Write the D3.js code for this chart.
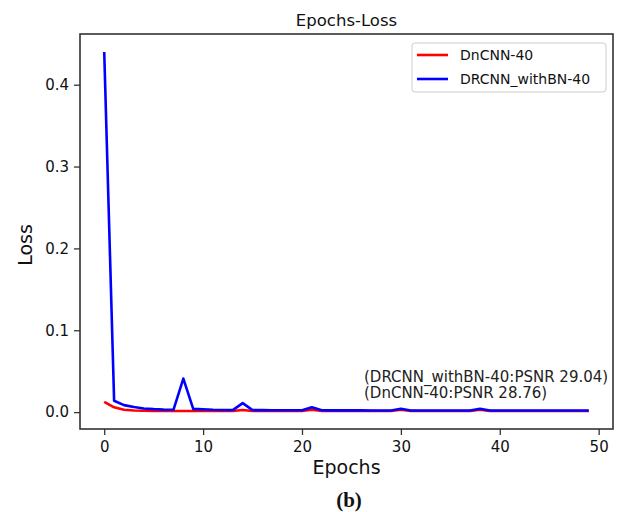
<!DOCTYPE html>
<html>
<head>
<meta charset="utf-8">
<script src="https://cdn.jsdelivr.net/npm/d3@7"></script>
<style>
  body { margin: 0; background: #fff; }
  svg { display: block; font-family: "DejaVu Sans", sans-serif; }
</style>
</head>
<body>
<div id="vis"></div>
<script>
// Loss per epoch
const epochs = d3.range(0, 50);
const dncnnLoss = [
  0.0125, 0.0058, 0.0028, 0.0020, 0.0017, 0.0015, 0.0014, 0.0014, 0.0014, 0.0014,
  0.0013, 0.0013, 0.0013, 0.0013, 0.0025, 0.0013, 0.0013, 0.0013, 0.0013, 0.0013,
  0.0013, 0.0030, 0.0013, 0.0013, 0.0013, 0.0013, 0.0013, 0.0013, 0.0013, 0.0013,
  0.0028, 0.0013, 0.0013, 0.0013, 0.0013, 0.0013, 0.0013, 0.0013, 0.0028, 0.0013,
  0.0013, 0.0013, 0.0013, 0.0013, 0.0013, 0.0013, 0.0013, 0.0013, 0.0013, 0.0013
];
const drcnnLoss = [
  0.440, 0.0138, 0.0085, 0.0062, 0.0045, 0.0036, 0.0030, 0.0028, 0.0410, 0.0040,
  0.0033, 0.0028, 0.0026, 0.0025, 0.0110, 0.0025, 0.0024, 0.0023, 0.0023, 0.0022,
  0.0022, 0.0058, 0.0022, 0.0021, 0.0021, 0.0021, 0.0021, 0.0020, 0.0020, 0.0020,
  0.0040, 0.0020, 0.0020, 0.0020, 0.0020, 0.0020, 0.0020, 0.0020, 0.0040, 0.0020,
  0.0020, 0.0020, 0.0020, 0.0020, 0.0020, 0.0020, 0.0020, 0.0020, 0.0020, 0.0020
];
const seriesNames = ["DnCNN-40", "DRCNN_withBN-40"];
const seriesColors = ["#ff0000", "#0000ff"];
const xTicks = [0, 10, 20, 30, 40, 50];
const yTicks = [0.0, 0.1, 0.2, 0.3, 0.4];
const notes = ["(DRCNN_withBN-40:PSNR 29.04)", "(DnCNN-40:PSNR 28.76)"];

const width = 620;
const height = 512;
const margin = { top: 34, right: 7, bottom: 83, left: 80 };

const svg = d3.select("#vis")
  .append("svg")
  .attr("width", width)
  .attr("height", height);

// matplotlib-style 5% padding around the data
const xExt = d3.extent(epochs);
const xPad = (xExt[1] - xExt[0]) * 0.05;
const allLoss = dncnnLoss.concat(drcnnLoss);
const yExt = d3.extent(allLoss);
const yPad = (yExt[1] - yExt[0]) * 0.05;

const xScale = d3.scaleLinear()
  .domain([xExt[0] - xPad, xExt[1] + xPad])
  .range([margin.left, width - margin.right]);

const yScale = d3.scaleLinear()
  .domain([yExt[0] - yPad, yExt[1] + yPad])
  .range([height - margin.bottom, margin.top]);

// Lines
const line = d3.line()
  .x((d, i) => xScale(epochs[i]))
  .y(d => yScale(d));

[dncnnLoss, drcnnLoss].forEach((vals, k) => {
  svg.append("path")
    .datum(vals)
    .attr("fill", "none")
    .attr("stroke", seriesColors[k])
    .attr("stroke-width", 2.6)
    .attr("stroke-linejoin", "round")
    .attr("d", line);
});

// Axes
const xAxis = svg.append("g")
  .attr("transform", `translate(0,${height - margin.bottom})`)
  .call(d3.axisBottom(xScale).tickValues(xTicks).tickSize(6).tickPadding(6).tickFormat(d3.format("d")));

const yAxis = svg.append("g")
  .attr("transform", `translate(${margin.left},0)`)
  .call(d3.axisLeft(yScale).tickValues(yTicks).tickSize(6).tickPadding(5).tickFormat(d3.format(".1f")));

[xAxis, yAxis].forEach(a => {
  a.select(".domain").remove();
  a.selectAll("line").attr("stroke", "#333").attr("stroke-width", 1.3);
  a.selectAll("text")
    .attr("fill", "#111")
    .attr("font-size", "15px")
    .attr("font-family", "DejaVu Sans, sans-serif");
});

// Frame
svg.append("rect")
  .attr("x", margin.left)
  .attr("y", margin.top)
  .attr("width", width - margin.left - margin.right)
  .attr("height", height - margin.top - margin.bottom)
  .attr("fill", "none")
  .attr("stroke", "#333")
  .attr("stroke-width", 1.6);

// Title and labels
svg.append("text")
  .attr("x", (margin.left + width - margin.right) / 2)
  .attr("y", 26)
  .attr("text-anchor", "middle")
  .attr("font-size", "16.5px")
  .attr("fill", "#111")
  .text("Epochs-Loss");

svg.append("text")
  .attr("x", (margin.left + width - margin.right) / 2)
  .attr("y", 474)
  .attr("text-anchor", "middle")
  .attr("font-size", "19px")
  .attr("fill", "#111")
  .text("Epochs");

svg.append("text")
  .attr("transform", "rotate(-90)")
  .attr("x", -245)
  .attr("y", 32)
  .attr("text-anchor", "middle")
  .attr("font-size", "19px")
  .attr("fill", "#111")
  .text("Loss");

svg.append("text")
  .attr("x", 349)
  .attr("y", 507)
  .attr("text-anchor", "middle")
  .attr("font-size", "21px")
  .attr("font-weight", "bold")
  .attr("font-family", "Liberation Serif, serif")
  .attr("fill", "#111")
  .text("(b)");

// PSNR notes
notes.forEach((t, i) => {
  svg.append("text")
    .attr("x", 364)
    .attr("y", 382 + i * 16)
    .attr("font-size", "15px")
    .attr("fill", "#222")
    .text(t);
});

// Legend
const legend = svg.append("g")
  .attr("transform", "translate(412,43)");

legend.append("rect")
  .attr("width", 194)
  .attr("height", 49)
  .attr("rx", 3)
  .attr("fill", "#fff")
  .attr("fill-opacity", 0.8)
  .attr("stroke", "#ccc")
  .attr("stroke-width", 1);

seriesNames.forEach((name, i) => {
  const y = 12 + i * 24;
  legend.append("line")
    .attr("x1", 5)
    .attr("x2", 36)
    .attr("y1", y)
    .attr("y2", y)
    .attr("stroke", seriesColors[i])
    .attr("stroke-width", 2.6);
  legend.append("text")
    .attr("x", 48)
    .attr("y", y + 5)
    .attr("font-size", "14px")
    .attr("fill", "#111")
    .text(name);
});
</script>
</body>
</html>
